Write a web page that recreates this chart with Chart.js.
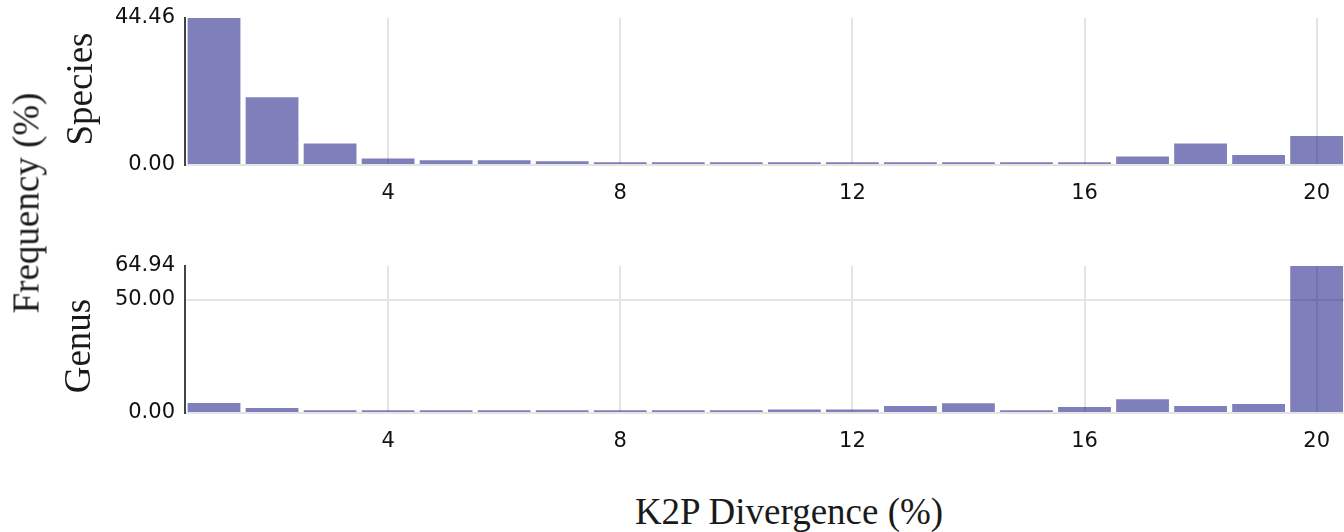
<!DOCTYPE html>
<html>
<head>
<meta charset="utf-8">
<script src="https://cdn.jsdelivr.net/npm/chart.js@4/dist/chart.umd.min.js"></script>
<style>
  html, body { margin: 0; padding: 0; background: #fff; }
  body { width: 1344px; height: 532px; overflow: hidden; position: relative; }
  .panel { position: absolute; left: 0; width: 1346px; }
  .label {
    position: absolute; font-family: "Liberation Serif", "Times New Roman", serif;
    font-size: 37px; line-height: 1; color: #1a1a1a; white-space: nowrap;
  }
  .rot { transform: translate(-50%, -50%) rotate(-90deg); }
  .hor { transform: translate(-50%, -50%); }
</style>
</head>
<body>
<div class="panel" style="top:0;height:211px;"><canvas id="species"></canvas></div>
<div class="panel" style="top:246px;height:213px;"><canvas id="genus"></canvas></div>

<div class="label rot" style="left:26px;top:203px;">Frequency (%)</div>
<div class="label rot" style="left:79px;top:89px;">Species</div>
<div class="label rot" style="left:77px;top:346px;">Genus</div>
<div class="label hor" style="left:789px;top:511px;">K2P Divergence (%)</div>

<script>
// K2P divergence bins (1 % wide), labelled by bin number
const bins = ['1','2','3','4','5','6','7','8','9','10','11','12','13','14','15','16','17','18','19','20'];
const shownBinLabels = ['4','8','12','16','20'];

// Frequency (%) of pairwise distances per bin
const speciesFreq = [44.46, 20.5, 6.5, 2.0, 1.4, 1.4, 1.1, 0.8, 0.8, 0.8, 0.8, 0.8, 0.8, 0.8, 0.8, 0.8, 2.6, 6.5, 3.0, 8.8];
const genusFreq   = [4.4, 2.2, 1.2, 1.2, 1.2, 1.2, 1.2, 1.2, 1.2, 1.2, 1.6, 1.6, 3.1, 4.3, 1.2, 2.6, 6.1, 3.1, 4.0, 64.94];

// y-axis tick values per panel
const speciesTicks = [0, 44.46];
const genusTicks = [0, 50, 64.94];

const BAR = 'rgba(0, 0, 122, 0.5)';
const GRID = '#e4e4e4';
const TICK_FONT = { family: '"DejaVu Sans", sans-serif', size: 21 };

function makePanel(id, values, yTicks, padTop) {
  const yMax = yTicks[yTicks.length - 1];
  return new Chart(document.getElementById(id), {
    type: 'bar',
    data: {
      labels: bins,
      datasets: [{
        data: values,
        backgroundColor: BAR,
        borderWidth: 0,
        barPercentage: 0.91,
        categoryPercentage: 1.0
      }]
    },
    options: {
      responsive: true,
      maintainAspectRatio: false,
      animation: false,
      layout: { padding: { top: padTop, left: 0, right: 0, bottom: 0 } },
      plugins: { legend: { display: false }, tooltip: { enabled: false } },
      scales: {
        x: {
          type: 'category',
          offset: true,
          grid: {
            offset: false,
            drawTicks: false,
            lineWidth: 2,
            color: ctx => shownBinLabels.includes(bins[ctx.index]) ? GRID : 'rgba(0,0,0,0)'
          },
          border: { display: false },
          ticks: {
            autoSkip: false,
            maxRotation: 0,
            padding: 16,
            color: '#111',
            font: TICK_FONT,
            callback: (v, i) => shownBinLabels.includes(bins[i]) ? bins[i] : ''
          },
          afterFit: s => { s.height = 46; }
        },
        y: {
          min: 0,
          max: yMax,
          afterBuildTicks: s => { s.ticks = yTicks.map(v => ({ value: v })); },
          grid: {
            drawTicks: false,
            lineWidth: 2,
            color: ctx => (ctx.tick && ctx.tick.value === yMax) ? 'rgba(0,0,0,0)' : GRID
          },
          border: { display: true, color: '#444', width: 2 },
          ticks: {
            padding: 10,
            color: '#111',
            font: TICK_FONT,
            callback: v => Number(v).toFixed(2)
          },
          afterFit: s => { s.width = 185; s.paddingTop = 0; s.paddingBottom = 0; }
        }
      }
    }
  });
}

makePanel('species', speciesFreq, speciesTicks, 18);
makePanel('genus', genusFreq, genusTicks, 20);
</script>
</body>
</html>
